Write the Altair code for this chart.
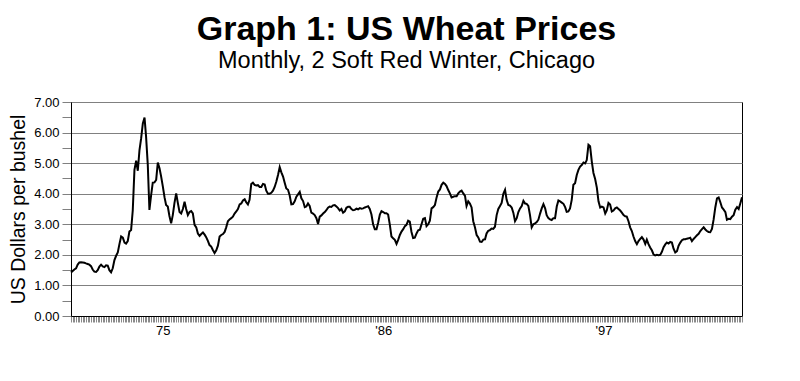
import json
import pandas as pd
import altair as alt

# ---- data (monthly, US$/bushel), Jun 1970 .. Dec 2003 ----
first_month = "1970-06-01"

prices_1970_1976 = [
    1.42, 1.47, 1.52, 1.56, 1.68, 1.75, 1.76, 1.75, 1.74, 1.72,
    1.70, 1.68, 1.63, 1.52, 1.45, 1.44, 1.50, 1.62, 1.68, 1.62,
    1.60, 1.66, 1.65, 1.50, 1.43, 1.56, 1.83, 1.97, 2.08, 2.36,
    2.60, 2.56, 2.40, 2.37, 2.45, 2.76, 2.81, 3.45, 4.78, 5.08,
    4.75, 5.43, 5.81, 6.30, 6.49, 5.87, 4.95, 3.47, 3.95, 4.36,
    4.37, 4.45, 5.02, 4.83, 4.56, 4.23, 3.88, 3.63, 3.58, 3.27,
    3.03, 3.30, 3.70, 4.01, 3.70, 3.40, 3.35, 3.50, 3.74, 3.50,
    3.30, 3.40, 3.43, 3.36, 2.98, 2.90, 2.70, 2.62, 2.68, 2.73,
]
prices_1977_1983 = [
    2.66, 2.58, 2.46, 2.32, 2.27, 2.16, 2.06, 2.15, 2.30, 2.60,
    2.65, 2.68, 2.75, 2.90, 3.10, 3.16, 3.20, 3.25, 3.35, 3.42,
    3.50, 3.65, 3.68, 3.78, 3.82, 3.72, 3.65, 3.80, 4.32, 4.36,
    4.29, 4.27, 4.28, 4.22, 4.22, 4.32, 4.30, 4.10, 4.00, 4.00,
    4.03, 4.10, 4.22, 4.40, 4.61, 4.87, 4.70, 4.56, 4.35, 4.17,
    4.13, 3.95, 3.65, 3.66, 3.75, 3.90, 3.98, 4.06, 3.85, 3.76,
    3.56, 3.58, 3.68, 3.60, 3.38, 3.35, 3.30, 3.20, 3.01, 3.25,
    3.29, 3.35, 3.40, 3.46, 3.54, 3.58, 3.57, 3.62, 3.63, 3.58,
]
prices_1984_1990 = [
    3.53, 3.45, 3.50, 3.38, 3.42, 3.54, 3.57, 3.57, 3.50, 3.46,
    3.47, 3.51, 3.49, 3.53, 3.51, 3.52, 3.55, 3.57, 3.59, 3.50,
    3.32, 3.00, 2.84, 2.84, 3.05, 3.32, 3.43, 3.40, 3.36, 3.36,
    3.32, 3.00, 2.60, 2.54, 2.49, 2.36, 2.49, 2.65, 2.76, 2.84,
    2.94, 2.98, 3.12, 3.09, 2.75, 2.55, 2.56, 2.70, 2.80, 2.82,
    3.00, 3.18, 3.20, 2.94, 3.00, 3.12, 3.52, 3.56, 3.63, 3.88,
    4.07, 4.14, 4.29, 4.36, 4.32, 4.25, 4.12, 4.01, 3.88, 3.90,
    3.92, 3.92, 4.01, 4.07, 4.10, 4.01, 3.93, 3.60, 3.75, 3.68,
]
prices_1990_1997 = [
    3.55, 3.10, 2.90, 2.65, 2.57, 2.43, 2.42, 2.50, 2.51, 2.70,
    2.79, 2.81, 2.86, 2.85, 2.92, 3.30, 3.50, 3.60, 3.70, 4.00,
    4.13, 3.80, 3.63, 3.61, 3.55, 3.38, 3.10, 3.20, 3.40, 3.52,
    3.60, 3.77, 3.68, 3.67, 3.60, 3.30, 2.90, 3.00, 3.03, 3.07,
    3.15, 3.35, 3.52, 3.66, 3.52, 3.30, 3.20, 3.16, 3.14, 3.20,
    3.20, 3.58, 3.78, 3.75, 3.71, 3.67, 3.56, 3.41, 3.42, 3.52,
    3.80, 4.29, 4.34, 4.61, 4.78, 4.89, 4.94, 5.02, 4.99, 5.10,
    5.60, 5.55, 5.05, 4.68, 4.48, 4.20, 3.75, 3.55, 3.58, 3.55,
]
prices_1997_2003 = [
    3.35, 3.45, 3.70, 3.65, 3.42, 3.45, 3.52, 3.55, 3.50, 3.45,
    3.38, 3.30, 3.26, 3.25, 3.10, 2.90, 2.78, 2.60, 2.45, 2.35,
    2.45, 2.52, 2.58, 2.50, 2.36, 2.50, 2.35, 2.24, 2.15, 2.02,
    1.98, 2.00, 1.99, 2.00, 2.10, 2.25, 2.34, 2.40, 2.37, 2.42,
    2.40, 2.20, 2.08, 2.12, 2.30, 2.40, 2.48, 2.51, 2.51, 2.53,
    2.54, 2.56, 2.45, 2.52, 2.58, 2.64, 2.69, 2.78, 2.84, 2.90,
    2.83, 2.78, 2.75, 2.74, 2.85, 3.15, 3.55, 3.85, 3.88, 3.72,
    3.55, 3.48, 3.40, 3.15, 3.18, 3.17, 3.25, 3.30, 3.48, 3.56,
    3.50, 3.69, 3.88,
]

label_years = [1975, 1986, 1997]
label_texts = ["75", "'86", "'97"]
y_tick_values = [0.0, 0.5, 1.0, 1.5, 2.0, 2.5, 3.0, 3.5, 4.0, 4.5, 5.0, 5.5, 6.0, 6.5, 7.0]

title_text = "Graph 1: US Wheat Prices"
subtitle_text = "Monthly, 2 Soft Red Winter, Chicago"
y_title = "US Dollars per bushel"

# ---- build table ----
prices = prices_1970_1976 + prices_1977_1983 + prices_1984_1990 + prices_1990_1997 + prices_1997_2003
dates = pd.date_range(first_month, periods=len(prices), freq="MS").strftime("%Y-%m-%d")
df = pd.DataFrame({"date": list(dates), "price": prices})

x_label_expr = "''"
for yr, txt in reversed(list(zip(label_years, label_texts))):
    x_label_expr = (
        f"(utcyear(datum.value) == {yr} && utcmonth(datum.value) == 0) ? {json.dumps(txt)} : {x_label_expr}"
    )

FONT = "Liberation Sans"

line = alt.Chart(df).mark_line(color="black", strokeWidth=2).encode(
    x=alt.X(
        "date:T",
        scale=alt.Scale(type="utc", nice=False),
        axis=alt.Axis(
            title=None,
            tickCount={"interval": "month", "step": 1},
            labelExpr=x_label_expr,
            labelOverlap=False,
            labelFlush=False,
            labelAngle=0,
            grid=False,
            tickColor="#8a8a8a",
            tickSize=6,
            tickWidth=1,
            domainColor="black",
            labelFont=FONT,
            labelFontSize=13,
            labelColor="black",
            labelPadding=2,
        ),
    ),
    y=alt.Y(
        "price:Q",
        scale=alt.Scale(domain=[0, 7], nice=False),
        axis=alt.Axis(
            values=y_tick_values,
            labelExpr="datum.value % 1 == 0 ? format(datum.value, '.2f') : ''",
            grid=True,
            gridColor="#808080",
            gridWidth=1,
            gridOpacity={"condition": {"test": "datum.value % 1 != 0", "value": 0}, "value": 1},
            tickColor="#808080",
            tickSize=9,
            domainColor="black",
            labelFont=FONT,
            labelFontSize=13,
            labelColor="black",
            labelPadding=3,
            title=y_title,
            titleFont=FONT,
            titleFontSize=19.5,
            titleFontWeight="normal",
            titleColor="black",
            titlePadding=5,
        ),
    ),
)

chart = line.properties(
    width=671,
    height=214,
    title=alt.TitleParams(
        text=title_text,
        subtitle=subtitle_text,
        font=FONT,
        fontSize=34,
        fontWeight="bold",
        color="black",
        subtitleFont=FONT,
        subtitleFontSize=23.5,
        subtitleColor="black",
        anchor="middle",
        frame="group",
        offset=24,
        subtitlePadding=2,
    ),
    autosize=alt.AutoSizeParams(type="none"),
    padding={"left": 63, "top": 94, "right": 50, "bottom": 57},
    background="white",
).configure_view(stroke="black", strokeWidth=1)

chart.save("out.html", embed_options={"renderer": "svg", "actions": False})
